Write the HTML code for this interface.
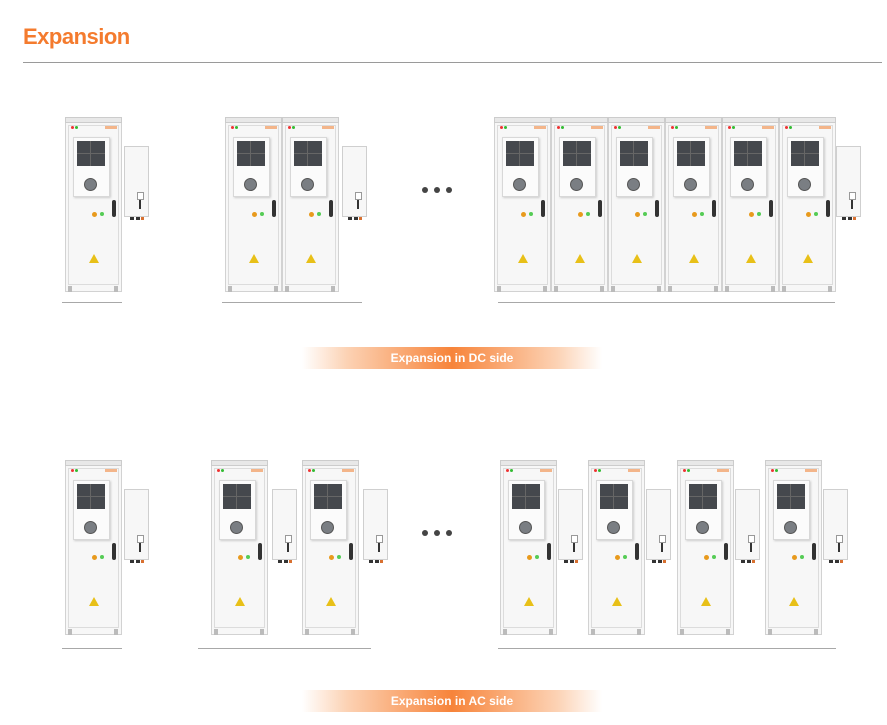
<!DOCTYPE html>
<html><head><meta charset="utf-8"><style>
*{margin:0;padding:0;box-sizing:border-box}
body{width:887px;height:725px;background:#fff;position:relative;overflow:hidden;font-family:"Liberation Sans",sans-serif}
.a{position:absolute}
.title{left:23px;top:24px;font-size:22px;font-weight:bold;color:#f47b2e;letter-spacing:-0.5px}
.hr{left:23px;top:62px;width:859px;height:1px;background:#9a9a9a}
.base{height:1px;background:#a8a8a8}
.banner{height:22px;width:300px;color:#fff;font-weight:bold;font-size:12px;text-align:center;line-height:22px;
background:linear-gradient(90deg,rgba(255,255,255,0) 0%,#fcd2b4 15%,#f7843a 50%,#fcd2b4 85%,rgba(255,255,255,0) 100%)}
.dot{width:6px;height:6px;border-radius:50%;background:#444}
</style></head><body>
<div class="a title">Expansion</div>
<div class="a hr"></div>
<div id="c"></div>
<div class="a base" style="left:62px;top:302px;width:60px"></div>
<div class="a base" style="left:222px;top:302px;width:140px"></div>
<div class="a base" style="left:498px;top:302px;width:337px"></div>
<div class="a base" style="left:62px;top:648px;width:60px"></div>
<div class="a base" style="left:198px;top:648px;width:173px"></div>
<div class="a base" style="left:498px;top:648px;width:338px"></div>
<div class="a dot" style="left:422px;top:187px"></div><div class="a dot" style="left:434px;top:187px"></div><div class="a dot" style="left:446px;top:187px"></div>
<div class="a dot" style="left:422px;top:530px"></div><div class="a dot" style="left:434px;top:530px"></div><div class="a dot" style="left:446px;top:530px"></div>
<div class="a banner" style="left:302px;top:347px">Expansion in DC side</div>
<div class="a banner" style="left:302px;top:690px">Expansion in AC side</div>
<script>
function cab(x,y){
 var h='';
 h+='<div class="a" style="left:'+x+'px;top:'+y+'px;width:57px;height:175px;background:#f7f7f7;border:1px solid #d2d2d2"></div>';
 h+='<div class="a" style="left:'+x+'px;top:'+y+'px;width:57px;height:6px;background:#e8e8e8;border:1px solid #ccc"></div>';
 h+='<div class="a" style="left:'+(x+3)+'px;top:'+(y+8)+'px;width:51px;height:160px;border:1px solid #dcdcdc"></div>';
 h+='<div class="a" style="left:'+(x+6)+'px;top:'+(y+9)+'px;width:3px;height:3px;border-radius:50%;background:#e33"></div>';
 h+='<div class="a" style="left:'+(x+10)+'px;top:'+(y+9)+'px;width:3px;height:3px;border-radius:50%;background:#3b3"></div>';
 h+='<div class="a" style="left:'+(x+40)+'px;top:'+(y+9)+'px;width:12px;height:3px;background:#f3b58a"></div>';
 h+='<div class="a" style="left:'+(x+8)+'px;top:'+(y+20)+'px;width:37px;height:60px;background:#fbfbfb;border:1px solid #d8d8d8;box-shadow:1px 1px 2px #ccc"></div>';
 h+='<div class="a" style="left:'+(x+12)+'px;top:'+(y+24)+'px;width:28px;height:25px;background:#45484d;background-image:linear-gradient(90deg,transparent 13px,#666 13px,#666 14px,transparent 14px),linear-gradient(0deg,transparent 12px,#666 12px,#666 13px,transparent 13px)"></div>';
 h+='<div class="a" style="left:'+(x+19)+'px;top:'+(y+61)+'px;width:13px;height:13px;border-radius:50%;background:#7a7e83;border:1px solid #555"></div>';
 h+='<div class="a" style="left:'+(x+27)+'px;top:'+(y+95)+'px;width:5px;height:5px;border-radius:50%;background:#e89a1d"></div>';
 h+='<div class="a" style="left:'+(x+35)+'px;top:'+(y+95)+'px;width:4px;height:4px;border-radius:50%;background:#5c5"></div>';
 h+='<div class="a" style="left:'+(x+47)+'px;top:'+(y+83)+'px;width:4px;height:17px;border-radius:2px;background:#333"></div>';
 h+='<div class="a" style="left:'+(x+24)+'px;top:'+(y+137)+'px;width:0;height:0;border-left:5px solid transparent;border-right:5px solid transparent;border-bottom:9px solid #e8c018"></div>';
 h+='<div class="a" style="left:'+(x+3)+'px;top:'+(y+169)+'px;width:4px;height:6px;background:#bbb"></div>';
 h+='<div class="a" style="left:'+(x+49)+'px;top:'+(y+169)+'px;width:4px;height:6px;background:#bbb"></div>';
 return h;
}
function box(x,y){
 var h='';
 h+='<div class="a" style="left:'+x+'px;top:'+y+'px;width:25px;height:71px;background:#f7f7f7;border:1px solid #cfcfcf"></div>';
 h+='<div class="a" style="left:'+(x+13)+'px;top:'+(y+46)+'px;width:7px;height:8px;background:#fff;border:1px solid #999"></div>';
 h+='<div class="a" style="left:'+(x+15)+'px;top:'+(y+54)+'px;width:2px;height:9px;background:#333"></div>';
 h+='<div class="a" style="left:'+(x+6)+'px;top:'+(y+71)+'px;width:4px;height:3px;background:#333"></div>';
 h+='<div class="a" style="left:'+(x+12)+'px;top:'+(y+71)+'px;width:4px;height:3px;background:#333"></div>';
 h+='<div class="a" style="left:'+(x+17)+'px;top:'+(y+71)+'px;width:3px;height:3px;background:#d87030"></div>';
 return h;
}
var h='',y1=117,y2=460;
h+=cab(65,y1)+box(124,y1+29);
h+=cab(225,y1)+cab(282,y1)+box(342,y1+29);
for(var i=0;i<6;i++)h+=cab(494+57*i,y1);
h+=box(836,y1+29);
h+=cab(65,y2)+box(124,y2+29);
[[211,272],[302,363],[500,558],[588,646],[677,735],[765,823]].forEach(function(p){h+=cab(p[0],y2)+box(p[1],y2+29);});
document.getElementById('c').innerHTML=h;
</script>
</body></html>
